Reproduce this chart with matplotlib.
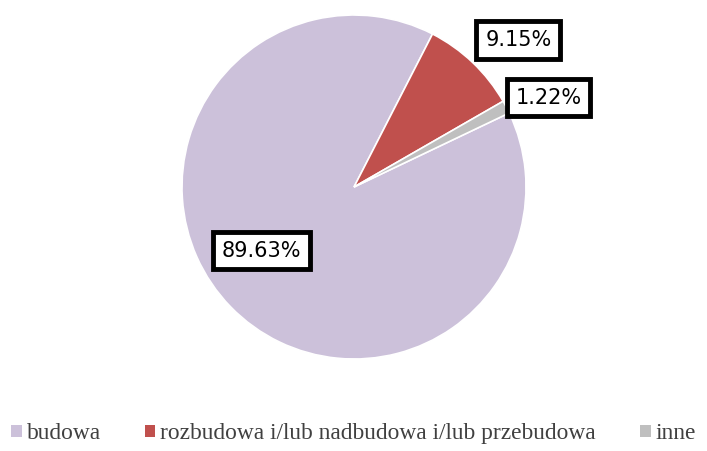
import matplotlib.pyplot as plt
from matplotlib.patches import Patch

# data
categories = ['budowa', 'rozbudowa i/lub nadbudowa i/lub przebudowa', 'inne']
values = [89.63, 9.15, 1.22]
labels = ['89.63%', '9.15%', '1.22%']
colors = ['#CCC1DA', '#C0504D', '#BFBFBF']

fig = plt.figure(figsize=(7.07, 4.51), dpi=100)
ax = fig.add_axes([0, 0, 1, 1])

wedges, _ = ax.pie(values, colors=colors, startangle=25.5, counterclock=False,
                   radius=1, center=(0, 0),
                   wedgeprops=dict(edgecolor='white', linewidth=1.2))

# label boxes, placed by hand like in the original
label_pos = [(-0.54, -0.37), (0.955, 0.855), (1.13, 0.52)]
for txt, (x, y) in zip(labels, label_pos):
    ax.text(x, y, txt, ha='center', va='center', fontsize=15,
            family='DejaVu Sans',
            bbox=dict(boxstyle='square,pad=0.42', fc='white', ec='black', lw=3.5))

ax.set_xlim(-354 / 172, (707 - 354) / 172)
ax.set_ylim(-(451 - 187) / 172, 187 / 172)
ax.axis('off')

handles = [Patch(facecolor=c, edgecolor='none') for c in colors]
leg = fig.legend(handles, categories, loc='lower center', bbox_to_anchor=(0.5, -0.032),
                 ncol=3, frameon=False, handlelength=0.45, handleheight=0.45,
                 handletextpad=0.2, columnspacing=1.9,
                 prop=dict(family='Liberation Serif', size=16.8))
for t in leg.get_texts():
    t.set_color('#404040')

fig.savefig('out.png', dpi=100)
